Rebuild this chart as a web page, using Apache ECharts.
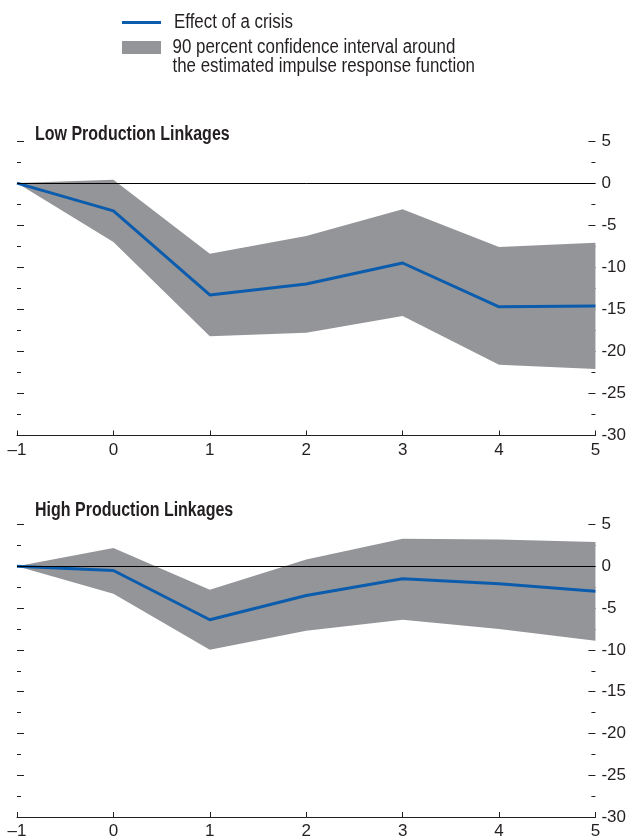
<!DOCTYPE html>
<html><head><meta charset="utf-8">
<script src="https://cdn.jsdelivr.net/npm/echarts@6/dist/echarts.min.js"></script>
<style>html,body{margin:0;padding:0;background:#fff}#c{width:629px;height:840px}</style>
</head><body><div id="c"></div>
<script>
// ---- data ----
const horizons = [-1, 0, 1, 2, 3, 4, 5];
const lowEffect = [0, -3.3, -13.3, -12.0, -9.5, -14.7, -14.6];
const lowUpper  = [0, 0.4, -8.4, -6.3, -3.1, -7.6, -7.1];
const lowLower  = [0, -7.0, -18.2, -17.8, -15.8, -21.6, -22.1];
const highEffect = [0, -0.5, -6.4, -3.5, -1.5, -2.1, -3.0];
const highUpper  = [0, 2.2, -2.8, 0.8, 3.3, 3.2, 2.9];
const highLower  = [0, -3.3, -10.0, -7.7, -6.4, -7.5, -8.9];
const yMin = -30, yMax = 5, yStep = 5;
const xMin = -1, xMax = 5, xStep = 1;
const panelTitles = ['Low Production Linkages', 'High Production Linkages'];
const legendLabels = ['Effect of a crisis', '90 percent confidence interval around', 'the estimated impulse response function'];

// ---- style ----
const FONT = '"Liberation Sans", Arial, sans-serif';
const TXT = '#231f20';
const BLUE = '#0b5cad';
const GRAY = '#939598';

const panels = [
  { effect: lowEffect, upper: lowUpper, lower: lowLower, top: 141, bottom: 404.5, titleY: 134.8 },
  { effect: highEffect, upper: highUpper, lower: highLower, top: 524.5, bottom: 21.3, titleY: 510.2 }
];

function bandRenderer(lower, upper) {
  return function (params, api) {
    if (params.dataIndex !== 0) return;
    const pts = [];
    for (let i = 0; i < horizons.length; i++) pts.push(api.coord([horizons[i], upper[i]]));
    for (let i = horizons.length - 1; i >= 0; i--) pts.push(api.coord([horizons[i], lower[i]]));
    return { type: 'polygon', shape: { points: pts }, style: { fill: GRAY } };
  };
}

const grid = [], xAxis = [], yAxis = [], series = [];
const graphic = [
  { type: 'line', shape: { x1: 122, y1: 22.5, x2: 161, y2: 22.5 }, style: { stroke: BLUE, lineWidth: 3 } },
  { type: 'rect', shape: { x: 122, y: 41, width: 39, height: 13 }, style: { fill: GRAY } }
];
[[174, 22.1], [172.5, 47.8], [172.5, 66.3]].forEach((pos, k) => {
  graphic.push({ type: 'text', x: pos[0], y: pos[1], scaleX: 0.845, scaleY: 1,
    style: { text: legendLabels[k], fontSize: 20, fontFamily: FONT, fill: TXT,
      align: 'left', verticalAlign: 'middle' } });
});

panels.forEach((p, i) => {
  grid.push({ left: 17, right: 33, top: p.top, bottom: p.bottom, containLabel: false });
  xAxis.push({
    gridIndex: i, type: 'value', min: xMin, max: xMax, interval: xStep,
    axisLine: { show: true, onZero: false, lineStyle: { color: TXT, width: 1 } },
    axisTick: { show: true, inside: true, length: 5, lineStyle: { color: TXT, width: 1 } },
    axisLabel: { fontSize: 17, color: TXT, fontFamily: FONT, margin: 6,
      formatter: v => v < 0 ? '\u2013' + Math.abs(v) : String(v) },
    splitLine: { show: false }
  });
  const yCommon = {
    gridIndex: i, type: 'value', min: yMin, max: yMax, interval: yStep,
    axisLine: { show: false, onZero: false },
    axisTick: { show: true, inside: true, length: 7, lineStyle: { color: TXT, width: 1 } },
    minorTick: { show: true, splitNumber: 2, length: 4, lineStyle: { color: TXT, width: 1 } },
    splitLine: { show: false }, minorSplitLine: { show: false }
  };
  yAxis.push(Object.assign({}, yCommon, {
    position: 'right',
    axisLabel: { show: true, fontSize: 17, color: TXT, fontFamily: FONT, margin: 6 }
  }));
  yAxis.push(Object.assign({}, yCommon, {
    position: 'left',
    axisLabel: { show: false }
  }));
  series.push({
    type: 'custom', name: 'band' + i, xAxisIndex: i, yAxisIndex: 2 * i, z: 1,
    renderItem: bandRenderer(p.lower, p.upper),
    data: horizons.map((h, k) => [h, p.lower[k], p.upper[k]]),
    encode: { x: 0, y: [1, 2] }, silent: true
  });
  series.push({
    type: 'line', name: 'zero' + i, xAxisIndex: i, yAxisIndex: 2 * i, z: 2,
    data: [], silent: true,
    markLine: { silent: true, symbol: 'none', label: { show: false },
      lineStyle: { color: '#000', width: 1, type: 'solid' },
      data: [{ yAxis: 0 }] }
  });
  series.push({
    type: 'line', name: 'Effect' + i, xAxisIndex: i, yAxisIndex: 2 * i, z: 3,
    data: horizons.map((h, k) => [h, p.effect[k]]),
    symbol: 'none', lineStyle: { color: BLUE, width: 3 }, silent: true
  });
  graphic.push({ type: 'text', x: 35, y: p.titleY, scaleX: 0.8, scaleY: 1,
    style: { text: panelTitles[i], fontSize: 20, fontWeight: 'bold', fontFamily: FONT, fill: TXT,
      align: 'left', verticalAlign: 'middle' } });
});

const chart = echarts.init(document.getElementById('c'), null, { renderer: 'canvas' });
chart.setOption({
  animation: false,
  backgroundColor: '#fff',
  grid, xAxis, yAxis, series, graphic
});
</script></body></html>
